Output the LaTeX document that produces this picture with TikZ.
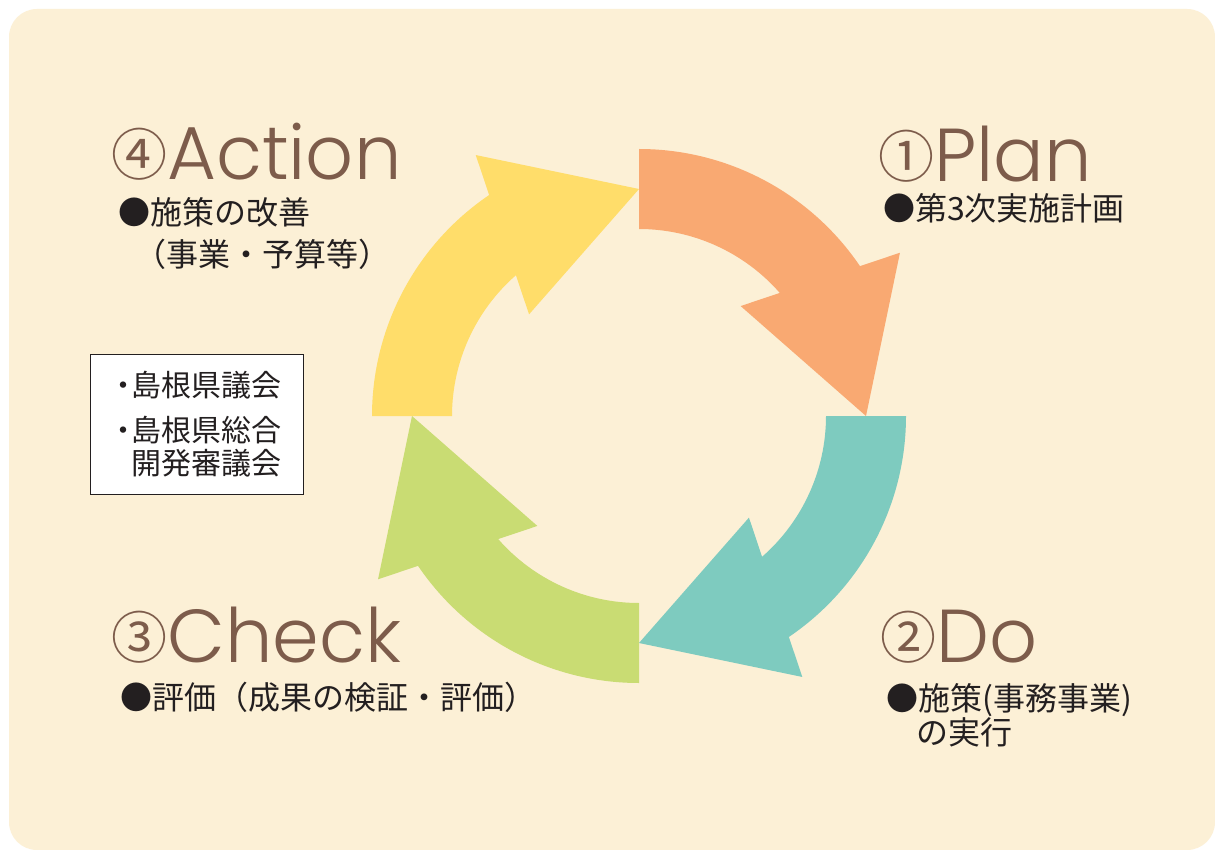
\documentclass[tikz,border=0pt]{standalone}
\usepackage{fontspec}
\newfontfamily\cjk{Noto Sans CJK JP}
\newfontfamily\geo{Poppins Light}
\definecolor{bgcol}{HTML}{FCF0D6}
\definecolor{orangecol}{HTML}{F9A972}
\definecolor{tealcol}{HTML}{7ECBBF}
\definecolor{yellowcol}{HTML}{FFDD6A}
\definecolor{greencol}{HTML}{C9DC73}
\definecolor{browncol}{HTML}{7D5C4B}
\definecolor{inkcol}{HTML}{231F20}
\tikzset{
  heading/.style={anchor=base west, inner sep=0pt, text=browncol, text depth=0pt},
  subtext/.style={anchor=base west, inner sep=0pt, text=inkcol, font=\cjk\fontsize{32pt}{32pt}\selectfont},
  boxtext/.style={anchor=base west, inner sep=0pt, text=inkcol, font=\cjk\fontsize{30pt}{30pt}\selectfont},
}
\newcommand{\circnum}[1]{\raisebox{4pt}{\cjk\fontsize{56pt}{56pt}\selectfont #1}}
\newcommand{\headword}[1]{{\geo\fontsize{75pt}{75pt}\selectfont #1}}
\begin{document}
\begin{tikzpicture}[x=1pt,y=1pt]
\useasboundingbox (0,0) rectangle (1215,-850);
\fill[white] (0,0) rectangle (1215,-850);
\fill[bgcol, rounded corners=28pt] (9,-9) rectangle (1215,-850);
% cycle arrows
\begin{scope}[shift={(639,-416)}]
\foreach \a/\col in {90/orangecol, 0/tealcol, -90/greencol, 180/yellowcol}{
  \fill[\col] (\a:267) arc[start angle=\a, end angle=\a-55.85, radius=267pt]
    -- (\a-57.97:307.81) -- (\a-90:227) -- (\a-42.75:149.73)
    -- (\a-48.84:187) arc[start angle=\a-48.84, end angle=\a, radius=187pt] -- cycle;
}
\end{scope}
% headings
\node[heading] (action) at (111,-180) {\circnum{④}\headword{Action}};
\node[heading] (plan) at (878,-182) {\circnum{①}\headword{Plan}};
\node[heading] (do) at (880,-662) {\circnum{②}\headword{Do}};
\node[heading] (check) at (111,-662) {\circnum{③}\headword{Check}};
% sub texts
\node[subtext] (action1) at (118,-224.5) {●施策の改善};
\node[subtext] (action2) at (134,-266.5) {（事業・予算等）};
\node[subtext] (plan1) at (883,-220.5) {●第3次実施計画};
\node[subtext] (do1) at (886,-710) {●施策(事務事業)};
\node[subtext] (do2) at (916,-744) {の実行};
\node[subtext] (check1) at (120,-709) {●評価（成果の検証・評価）};
% box
\node[draw=inkcol, line width=1pt, fill=white, minimum width=213pt, minimum height=140pt, inner sep=0pt, anchor=north west] (box) at (90,-354) {};
\node[boxtext] (b1) at (115,-396) {\makebox[16pt][c]{・}島根県議会};
\node[boxtext] (b2) at (115,-441) {\makebox[16pt][c]{・}島根県総合};
\node[boxtext] (b3) at (131,-474) {開発審議会};
\end{tikzpicture}
\end{document}
